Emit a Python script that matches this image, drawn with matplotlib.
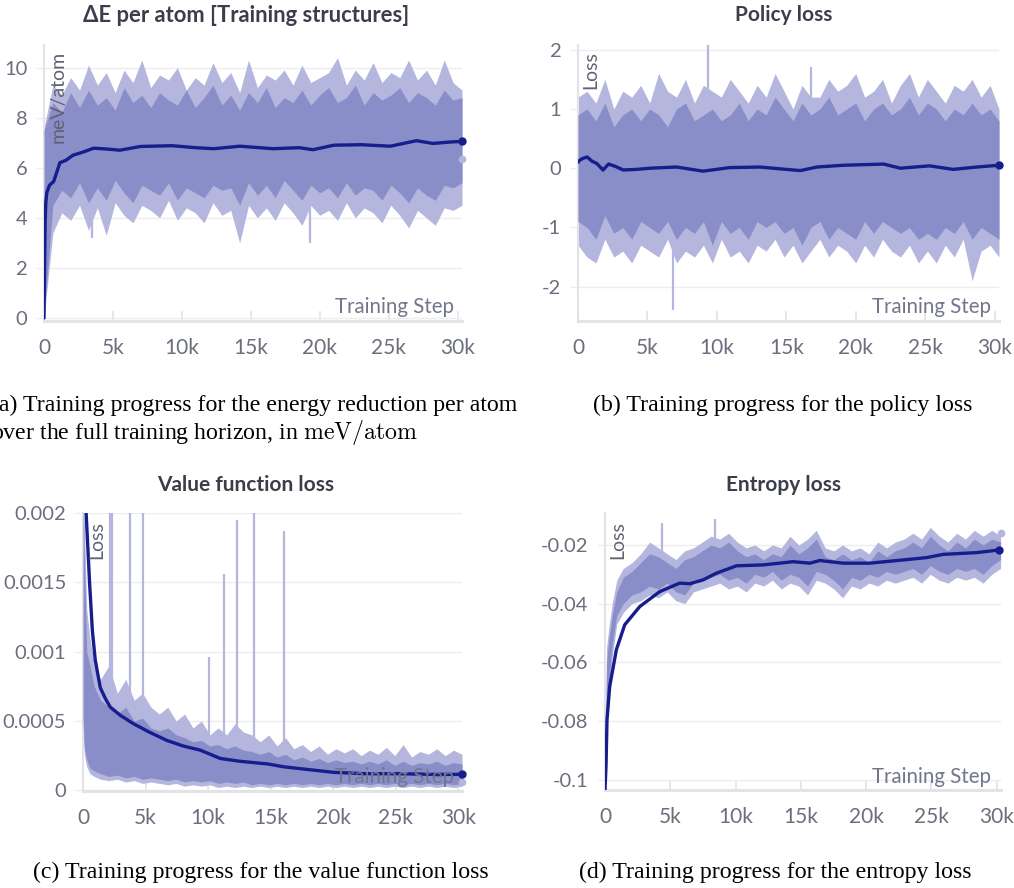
import matplotlib
matplotlib.use("Agg")
import matplotlib.pyplot as plt
import numpy as np

plt.rcParams['font.family'] = ['Lato', 'DejaVu Sans']
plt.rcParams['axes.unicode_minus'] = False
plt.rcParams['mathtext.fontset'] = 'cm'

# ---- data ----
steps_ab = np.linspace(0, 30300, 48)
steps_cd = np.r_[0, 120, 300, 550, 900, np.linspace(1400, 30300, 44)]
xticks = [0, 5000, 10000, 15000, 20000, 25000, 30000]
xticklabels = ['0', '5k', '10k', '15k', '20k', '25k', '30k']

# (a) energy reduction per atom
a_hi = [7.6, 9.3, 8.9, 9.6, 9.1, 10.1, 9.3, 9.8, 9.0, 9.9, 9.4, 10.3, 9.2, 9.7, 9.5, 10.0,
        9.1, 9.6, 9.3, 10.2, 9.4, 9.8, 9.0, 10.3, 9.2, 9.7, 9.5, 9.9, 9.3, 10.1, 9.4, 9.6,
        9.8, 10.4, 9.3, 9.9, 9.5, 10.2, 9.4, 9.8, 9.6, 10.3, 9.5, 9.9, 9.3, 10.3, 9.4, 9.1]
a_lo = [0.0, 3.4, 4.2, 3.9, 4.5, 3.5, 4.4, 3.3, 4.6, 4.1, 3.8, 4.5, 4.3, 4.0, 4.7, 3.9,
        4.4, 4.2, 3.8, 4.6, 4.1, 4.3, 3.0, 4.5, 4.0, 4.4, 3.9, 4.6, 4.2, 3.7, 4.5, 4.1,
        4.3, 3.9, 4.6, 4.0, 4.4, 4.2, 3.8, 4.5, 4.1, 3.6, 4.3, 4.0, 3.7, 4.4, 4.3, 4.5]
a_hi2 = [7.5, 8.6, 8.2, 9.0, 8.4, 9.1, 8.5, 8.8, 8.3, 9.2, 8.6, 8.9, 8.4, 9.0, 8.7, 8.5,
         9.1, 8.4, 8.8, 9.3, 8.5, 8.9, 8.3, 9.0, 8.6, 9.2, 8.4, 8.8, 8.6, 9.1, 8.5, 8.9,
         9.2, 8.6, 8.8, 9.3, 8.5, 9.0, 8.7, 8.9, 9.2, 8.6, 9.0, 8.8, 8.5, 9.1, 8.7, 8.8]
a_lo2 = [0.1, 4.5, 5.1, 4.8, 5.4, 4.6, 5.2, 4.7, 5.5, 5.0, 4.6, 5.3, 5.1, 4.9, 5.4, 4.7,
         5.2, 5.0, 4.8, 5.3, 5.1, 5.2, 4.5, 5.4, 4.9, 5.3, 4.8, 5.5, 5.1, 4.7, 5.3, 5.0,
         5.2, 4.8, 5.4, 4.9, 5.2, 5.1, 4.7, 5.3, 5.0, 4.6, 5.2, 4.9, 4.7, 5.3, 5.2, 5.4]
a_line_x = [0, 40, 80, 130, 200, 400, 700, 1150, 1600, 2100, 2800, 3600, 4500, 5500, 7000,
            9300, 11000, 12300, 14200, 16600, 18500, 19500, 21000, 23000, 25100, 27000,
            28200, 29500, 30300]
a_line_y = [0.0, 2.0, 3.8, 4.6, 5.0, 5.3, 5.45, 6.2, 6.3, 6.5, 6.62, 6.78, 6.75, 6.7, 6.85,
            6.88, 6.8, 6.76, 6.86, 6.76, 6.8, 6.72, 6.9, 6.92, 6.86, 7.08, 6.97, 7.03, 7.05]
a_spike_x = [3450, 19300]
a_spike_y = [3.2, 3.0]
a_last = 6.35

# (b) policy loss
b_hi = [1.2, 1.3, 1.1, 1.5, 1.0, 1.3, 1.2, 1.4, 1.1, 1.6, 1.3, 1.2, 1.5, 1.1, 1.4, 1.3,
        1.2, 1.5, 1.3, 1.1, 1.4, 1.2, 1.6, 1.3, 1.0, 1.4, 1.2, 1.2, 1.5, 1.3, 1.4, 1.6,
        1.2, 1.3, 1.5, 1.1, 1.4, 1.6, 1.2, 1.5, 1.3, 1.1, 1.4, 1.3, 1.5, 1.2, 1.4, 1.0]
b_lo = [-1.3, -1.5, -1.6, -1.2, -1.5, -1.4, -1.6, -1.3, -1.4, -1.5, -1.2, -1.6, -1.4, -1.5,
        -1.3, -1.6, -1.2, -1.5, -1.4, -1.6, -1.3, -1.4, -1.2, -1.5, -1.3, -1.6, -1.4, -1.2,
        -1.5, -1.3, -1.4, -1.6, -1.3, -1.5, -1.2, -1.4, -1.5, -1.3, -1.6, -1.4, -1.6, -1.3,
        -1.5, -1.2, -1.9, -1.4, -1.3, -1.5]
b_hi2 = [0.9, 1.0, 0.8, 1.1, 0.7, 0.9, 1.0, 0.8, 1.0, 0.9, 0.7, 1.0, 1.1, 0.8, 0.9, 1.0,
         0.8, 0.9, 1.1, 0.8, 1.0, 0.9, 1.2, 1.0, 0.8, 1.1, 0.9, 1.0, 1.2, 0.9, 1.0, 1.1,
         0.8, 1.0, 1.1, 0.9, 1.0, 1.2, 0.9, 1.1, 1.0, 0.8, 1.0, 0.9, 1.1, 0.9, 1.0, 0.8]
b_lo2 = [-0.9, -1.0, -1.2, -0.8, -1.1, -1.0, -1.2, -0.9, -1.0, -1.1, -0.9, -1.2, -1.0, -1.1,
         -0.9, -1.3, -0.9, -1.1, -1.0, -1.2, -0.9, -1.0, -0.9, -1.1, -1.0, -1.3, -1.0, -0.9,
         -1.2, -1.0, -1.1, -1.2, -0.9, -1.1, -0.9, -1.0, -1.1, -1.0, -1.2, -1.1, -1.2, -1.0,
         -1.1, -0.9, -1.2, -1.0, -1.1, -1.2]
b_line_x = [0, 150, 400, 650, 1000, 1350, 1800, 2200, 2700, 3250, 4200, 5200, 7100, 9000,
            10900, 13100, 15000, 16000, 17200, 19100, 22000, 23200, 25300, 27000, 28700, 30300]
b_line_y = [0.1, 0.14, 0.17, 0.19, 0.12, 0.08, -0.03, 0.07, 0.03, -0.03, -0.02, 0.0, 0.02,
            -0.05, 0.01, 0.02, -0.02, -0.04, 0.02, 0.05, 0.07, 0.0, 0.04, -0.02, 0.02, 0.05]
b_spike_x = [9350, 16740, 6840]
b_spike_y = [2.1, 1.71, -2.39]
b_last = 0.05

# (c) value function loss
c_hi = [0.0021, 0.0019, 0.0013, 0.0011, 0.0009, 0.0008, 0.0009, 0.0007, 0.0008, 0.00065,
        0.0007, 0.0006, 0.00055, 0.0006, 0.0005, 0.00055, 0.00045, 0.0005, 0.0004, 0.00045,
        0.0004, 0.00048, 0.00042, 0.0004, 0.00035, 0.0004, 0.00032, 0.00038, 0.0003, 0.00033,
        0.00028, 0.00032, 0.00026, 0.0003, 0.00027, 0.0003, 0.00025, 0.00029, 0.00026, 0.00031,
        0.00025, 0.00033, 0.00024, 0.00028, 0.00026, 0.0003, 0.00025, 0.00029, 0.00026]
c_lo = [0.0004, 0.00025, 0.00017, 0.00012, 0.0001, 0.00008, 0.00007, 0.00008, 0.00006, 0.00007,
        0.00005, 0.00006, 0.00005, 0.00004, 0.00005, 0.00003, 0.00004, 0.00003, 0.00004, 0.00002,
        0.00003, 0.00002, 0.00003, 0.00002, 0.00003, 0.00002, 0.00003, 0.00002, 0.00003, 0.00002,
        0.00003, 0.00002, 0.00003, 0.00002, 0.00003, 0.00002, 0.00003, 0.00002, 0.00003, 0.00002,
        0.00003, 0.00002, 0.00003, 0.00002, 0.00003, 0.00002, 0.00003, 0.00002, 0.00003]
c_hi2 = [0.0021, 0.0016, 0.0010, 0.0009, 0.00075, 0.00065, 0.0006, 0.00055, 0.0006, 0.0005,
         0.00052, 0.00045, 0.00043, 0.00045, 0.0004, 0.00038, 0.00035, 0.00036, 0.00032, 0.00033,
         0.0003, 0.00032, 0.00029, 0.00028, 0.00026, 0.00028, 0.00024, 0.00026, 0.00022, 0.00024,
         0.00021, 0.00023, 0.0002, 0.00022, 0.0002, 0.00021, 0.00019, 0.00021, 0.00019, 0.00022,
         0.00018, 0.00021, 0.00018, 0.0002, 0.00019, 0.00021, 0.00018, 0.0002, 0.00019]
c_lo2 = [0.0005, 0.0003, 0.00022, 0.00016, 0.00014, 0.00012, 0.0001, 0.00011, 0.00009, 0.0001,
         0.00008, 0.00009, 0.00008, 0.00007, 0.00008, 0.00006, 0.00007, 0.00006, 0.00007, 0.00005,
         0.00006, 0.00005, 0.00006, 0.00004, 0.00005, 0.00004, 0.00005, 0.00004, 0.00005, 0.00004,
         0.00005, 0.00004, 0.00005, 0.00004, 0.00005, 0.00004, 0.00005, 0.00004, 0.00005, 0.00004,
         0.00005, 0.00004, 0.00005, 0.00004, 0.00005, 0.00004, 0.00005, 0.00004, 0.00005]
c_line_x = [0, 250, 530, 750, 980, 1380, 1800, 2180, 3000, 4040, 5300, 6700, 8000, 9370,
            10970, 12500, 13630, 14800, 16020, 18000, 20020, 22500, 25340, 28000, 30270]
c_line_y = [0.003, 0.002, 0.00149, 0.00115, 0.00094, 0.00074, 0.00066, 0.0006, 0.00054,
            0.00048, 0.00042, 0.00036, 0.00032, 0.00029, 0.00023, 0.00021, 0.0002, 0.00019,
            0.00017, 0.00015, 0.00013, 0.00012, 0.00012, 0.000115, 0.000115]
c_spike_x = [2180, 2330, 3770, 4830, 10100, 11300, 12300, 13680, 16030]
c_spike_y = [0.002, 0.002, 0.002, 0.002, 0.00096, 0.00156, 0.00195, 0.002, 0.00187]
c_last = 0.00006

# (d) entropy loss
d_hi = [-0.098, -0.055, -0.048, -0.04, -0.032, -0.028, -0.026, -0.023, -0.019, -0.021,
        -0.023, -0.025, -0.022, -0.021, -0.019, -0.017, -0.018, -0.016, -0.019, -0.021,
        -0.02, -0.022, -0.02, -0.021, -0.017, -0.02, -0.018, -0.015, -0.021, -0.022,
        -0.02, -0.022, -0.021, -0.023, -0.019, -0.021, -0.019, -0.018, -0.016, -0.018,
        -0.014, -0.017, -0.019, -0.016, -0.018, -0.015, -0.017, -0.015, -0.017]
d_lo = [-0.1035, -0.085, -0.07, -0.058, -0.047, -0.043, -0.04, -0.039, -0.037, -0.038,
        -0.036, -0.039, -0.04, -0.036, -0.035, -0.034, -0.033, -0.035, -0.034, -0.036,
        -0.033, -0.034, -0.032, -0.035, -0.033, -0.034, -0.037, -0.032, -0.033, -0.035,
        -0.038, -0.034, -0.035, -0.033, -0.034, -0.032, -0.033, -0.032, -0.031, -0.033,
        -0.03, -0.032, -0.033, -0.031, -0.032, -0.031, -0.033, -0.03, -0.028]
d_hi2 = [-0.099, -0.06, -0.052, -0.044, -0.036, -0.031, -0.029, -0.026, -0.023, -0.024,
         -0.026, -0.028, -0.025, -0.024, -0.022, -0.02, -0.021, -0.019, -0.022, -0.024,
         -0.023, -0.025, -0.023, -0.024, -0.02, -0.023, -0.021, -0.018, -0.024, -0.025,
         -0.023, -0.025, -0.024, -0.026, -0.022, -0.024, -0.022, -0.021, -0.019, -0.021,
         -0.017, -0.02, -0.022, -0.019, -0.021, -0.018, -0.02, -0.018, -0.019]
d_lo2 = [-0.103, -0.08, -0.066, -0.054, -0.044, -0.04, -0.037, -0.036, -0.034, -0.035,
         -0.033, -0.036, -0.037, -0.033, -0.032, -0.031, -0.03, -0.032, -0.031, -0.033,
         -0.03, -0.031, -0.029, -0.032, -0.03, -0.031, -0.034, -0.029, -0.03, -0.032,
         -0.035, -0.031, -0.032, -0.03, -0.031, -0.029, -0.03, -0.029, -0.028, -0.03,
         -0.027, -0.029, -0.03, -0.028, -0.029, -0.028, -0.03, -0.027, -0.025]
d_line_x = [0, 80, 153, 360, 870, 1510, 2660, 4190, 5720, 6500, 7510, 8540, 10070, 12110,
            14410, 15690, 16450, 18240, 20290, 22840, 24630, 25910, 28470, 30200]
d_line_y = [-0.1034, -0.095, -0.0796, -0.0682, -0.0557, -0.0472, -0.041, -0.0359, -0.033,
            -0.0332, -0.0319, -0.0296, -0.0271, -0.0268, -0.0257, -0.0262, -0.0253, -0.0262,
            -0.0262, -0.0251, -0.0243, -0.0232, -0.0226, -0.0217]
d_spike_x = [4350, 8450]
d_spike_y = [-0.0125, -0.011]
d_last = -0.0159

# ---- styling ----
LIGHT = '#b4b6de'
DARK = '#8a8ec8'
NAVY = '#161d8c'
AXIS = '#e2e2e8'
GRID = '#ededf1'
TICK = '#6b6e7d'
W, H = 1014, 888

fig = plt.figure(figsize=(W / 100, H / 100), dpi=100)


def px(x, y):
    return x / W, 1 - y / H


def panel(rect, x, lo, hi, lo2, hi2, lx, ly, sx, sy, last, ylim, yticks, yticklabels):
    ax = fig.add_axes(rect)
    # isolated outliers of the raw series, drawn from the smoothed curve outwards
    ax.vlines(sx, np.interp(sx, lx, ly), sy, color=LIGHT, lw=1.6, zorder=1)
    ax.fill_between(x, lo, hi, color=LIGHT, lw=0, zorder=2)
    ax.fill_between(x, lo2, hi2, color=DARK, lw=0, zorder=3)
    ax.plot(lx, ly, color=NAVY, lw=2.4, zorder=5, solid_capstyle='round')
    ax.plot(x[-1], last, 'o', ms=4.5, color=LIGHT, zorder=4, clip_on=False)
    ax.plot(lx[-1], ly[-1], 'o', ms=5, color=NAVY, zorder=6, clip_on=False)
    ax.set_xlim(0, 30300)
    ax.set_ylim(*ylim)
    ax.set_xticks(xticks)
    ax.set_xticklabels(xticklabels)
    ax.set_yticks(yticks)
    ax.set_yticklabels(yticklabels)
    ax.grid(axis='y', color=GRID, lw=1)
    ax.set_axisbelow(True)
    for s in ['top', 'right']:
        ax.spines[s].set_visible(False)
    ax.spines['left'].set_color(AXIS)
    ax.spines['left'].set_linewidth(1.5)
    ax.spines['bottom'].set_color(AXIS)
    ax.spines['bottom'].set_linewidth(2.2)
    ax.tick_params(axis='x', direction='in', length=7, width=1.2, color=AXIS,
                   pad=12, labelsize=15, labelcolor=TICK)
    ax.tick_params(axis='y', direction='out', length=6, width=1, color=GRID,
                   pad=6, labelsize=14.5, labelcolor=TICK)
    ax.set_facecolor('none')
    return ax


panel([44 / W, 0.6385, 418 / W, 0.3108], steps_ab, a_lo, a_hi, a_lo2, a_hi2,
      a_line_x, a_line_y, a_spike_x, a_spike_y, a_last, (-0.12, 10.9),
      [0, 2, 4, 6, 8, 10], ['0', '2', '4', '6', '8', '10'])
panel([578 / W, 0.6385, 421 / W, 0.3108], steps_ab, b_lo, b_hi, b_lo2, b_hi2,
      b_line_x, b_line_y, b_spike_x, b_spike_y, b_last, (-2.58, 2.08),
      [-2, -1, 0, 1, 2], ['-2', '-1', '0', '1', '2'])
panel([83 / W, 0.1092, 379 / W, 0.3131], steps_cd, c_lo, c_hi, c_lo2, c_hi2,
      c_line_x, c_line_y, c_spike_x, c_spike_y, c_last, (-0.000005, 0.002),
      [0, 0.0005, 0.001, 0.0015, 0.002], ['0', '0.0005', '0.001', '0.0015', '0.002'])
panel([605 / W, 0.1104, 395.6 / W, 0.3119], steps_cd, d_lo, d_hi, d_lo2, d_hi2,
      d_line_x, d_line_y, d_spike_x, d_spike_y, d_last, (-0.1035, -0.0091),
      [-0.1, -0.08, -0.06, -0.04, -0.02], ['-0.1', '-0.08', '-0.06', '-0.04', '-0.02'])

# titles
for (x, y, t, fs) in [(246, 15, 'ΔE per atom [Training structures]', 15.8),
                      (784, 15, 'Policy loss', 15), (246, 485, 'Value function loss', 15),
                      (784, 485, 'Entropy loss', 15)]:
    fig.text(*px(x, y), t, ha='center', va='center', fontsize=fs,
             fontweight='bold', color='#3b3e4a')

# in-plot axis labels
for (x, y, t) in [(58, 51, 'meV/atom'), (591, 51, 'Loss'), (97, 521, 'Loss'), (618, 521, 'Loss')]:
    fig.text(*px(x, y), t, rotation=90, ha='center', va='top', fontsize=14, color='#5f6272')
for (x, y) in [(454, 307), (991, 307), (454, 777), (991, 777)]:
    fig.text(*px(x, y), 'Training Step', ha='right', va='center', fontsize=14.8, color='#72768a')

# captions
cap = dict(fontsize=17.2, color='black', family=['Liberation Serif', 'DejaVu Serif'])
fig.text(*px(-9, 405), '(a) Training progress for the energy reduction per atom',
         ha='left', va='center', **cap)
fig.text(*px(-9, 432), r'over the full training horizon, in $\mathrm{meV}/\mathrm{atom}$',
         ha='left', va='center', **cap)
fig.text(*px(783, 405), '(b) Training progress for the policy loss', ha='center', va='center', **cap)
fig.text(*px(261, 872), '(c) Training progress for the value function loss',
         ha='center', va='center', **cap)
fig.text(*px(775, 872), '(d) Training progress for the entropy loss', ha='center', va='center', **cap)

fig.savefig('out.png', dpi=100)
